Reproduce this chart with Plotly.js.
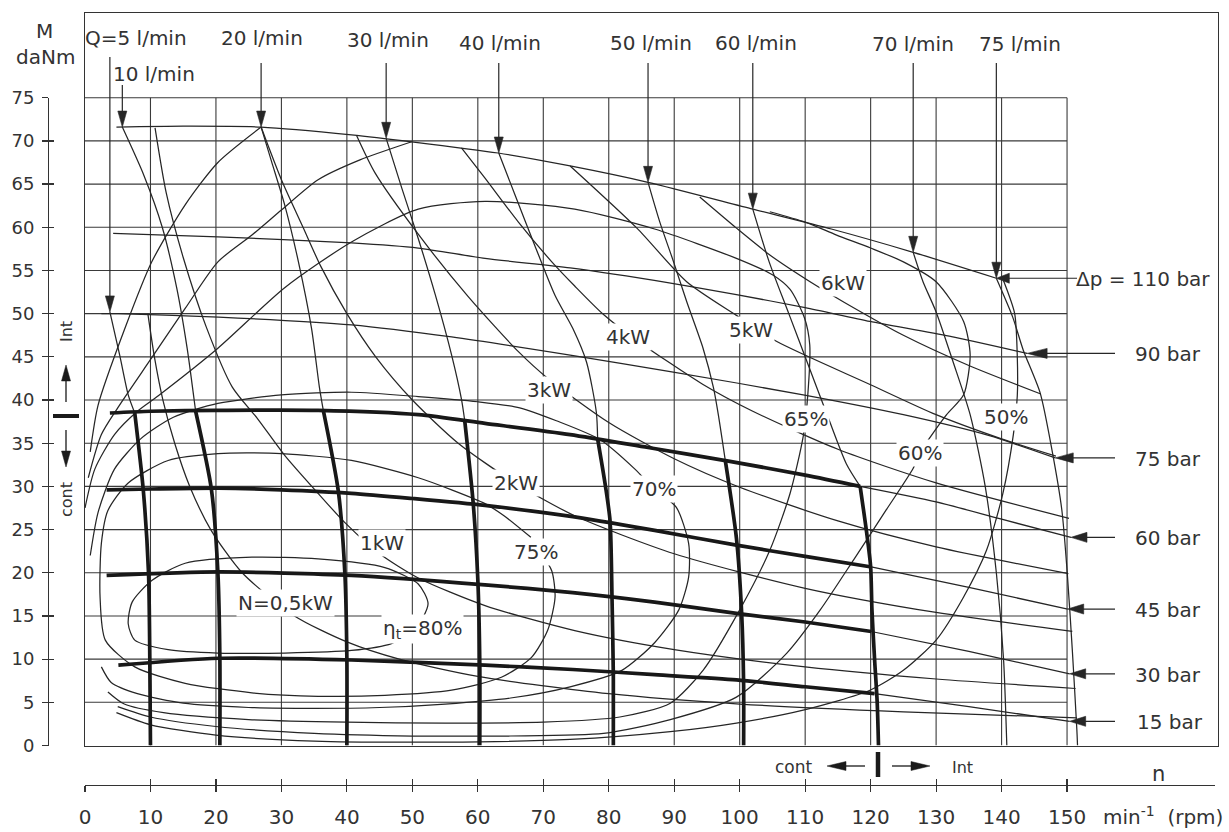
<!DOCTYPE html>
<html><head><meta charset="utf-8">
<script src="https://cdn.plot.ly/plotly-3.0.1.min.js"></script>
<style>html,body{margin:0;padding:0;background:#fff}#chart{width:1229px;height:832px}</style>
</head><body><div id="chart"></div>
<script>
// ---------------- DATA (speed n in rpm, torque M in daNm) ----------------
const xTicks = [0,10,20,30,40,50,60,70,80,90,100,110,120,130,140,150];
const yTicks = [0,5,10,15,20,25,30,35,40,45,50,55,60,65,70,75];

// pressure lines (thin)
const p110_n = [4.8,15,26.9,40.7,49.9,63.1,74.1,86,102,114,126.5,139.2];
const p110_m = [71.6,71.7,71.6,70.7,69.9,68.6,67.1,65.2,62.1,59.8,57.1,54.1];
const p90_n  = [4.3,20.3,40.7,50.9,61.1,74.1,89,99.5,110,119.9,132,143.9];
const p90_m  = [59.3,58.9,58.2,57.6,56.4,55.3,53.6,52.2,50.7,49.1,47.4,45.4];
const p75_n  = [2.5,5.1,20.4,40.7,56,74.1,89.4,109.7,125,138,148.2];
const p75_m  = [50,50,49.6,48.7,47.3,45.2,43.3,40.6,38.3,35.9,33.3];
// pressure lines: thick (continuous duty) part and thin continuation
const p60c_n = [3.8,10,20,35.6,50.9,61.1,74.1,86,98.5,110,118.4];
const p60c_m = [38.5,38.7,38.8,38.8,38.3,37.3,36,34.5,32.9,31.3,30];
const p60i_n = [118.4,130,140,150.6];
const p60i_m = [30,28.2,26.2,24.1];
const p45c_n = [3.3,10,20.4,30,40.7,50,61.1,74.5,87,99.5,110,119.9];
const p45c_m = [29.6,29.7,29.8,29.6,29.2,28.6,27.8,26.5,24.9,23.2,21.9,20.7];
const p45i_n = [119.9,135,150.1];
const p45i_m = [20.7,18.3,15.8];
const p30c_n = [3.3,20.4,40.7,61.1,74.5,87,99.5,110,120.1];
const p30c_m = [19.7,20.1,19.7,18.6,17.7,16.6,15.3,14.3,13.2];
const p30i_n = [120.1,135,150.4];
const p30i_m = [13.2,10.9,8.3];
const p15c_n = [5.1,20.4,40.7,61.1,74.5,87,99.5,110,120.6];
const p15c_m = [9.3,10.1,9.9,9.3,8.8,8.2,7.6,6.8,6.0];
const p15i_n = [120.6,135,150.4];
const p15i_m = [6.0,4.5,2.8];

// flow lines Q (l/min): thin part from the top, thick part in continuous zone
const q5t_n  = [3.8,5.3,6.6,7.6];            const q5t_m  = [50.2,45.2,40.6,38.5];
const q5c_n  = [7.6,8.9,9.7,9.9,10.0];       const q5c_m  = [38.5,29.6,20,10,0];
const q10t_n = [5.7,9,11.8,14,15.6,16.5,16.9]; const q10t_m = [71.6,66,60,53,46,41,38.7];
const q10c_n = [16.9,19.3,20.3,20.6,20.6];   const q10c_m = [38.7,29.7,20,10,0];
const q20t_n = [26.9,28.5,30.5,32.6,34.6,35.8,36.4]; const q20t_m = [71.6,67.6,62.6,56,48.3,41.5,38.8];
const q20c_n = [36.4,38.7,39.7,40,40];       const q20c_m = [38.8,29.4,19.8,10,0];
const q30t_n = [46,48.4,50.9,53.5,56,57.5,58]; const q30t_m = [70.3,64.5,58.7,52.2,45.2,40.1,37.6];
const q30c_n = [58,59.3,60,60.3,60.3];       const q30c_m = [37.6,28,19.2,9.5,0];
const q40t_n = [63.2,65.7,68.7,71.8,74.5,76.6,78.1,78.3]; const q40t_m = [68.6,63.7,57.9,52.1,48.3,44.4,38.6,35.5];
const q40c_n = [78.3,79.5,80.2,80.5,80.7,80.7]; const q40c_m = [35.5,30,26,17,8,0];
const q50t_n = [86,87.8,89.9,91.9,94.4,96,96.8,97.8]; const q50t_m = [65.2,60.6,56,51.4,46,41.4,38,33];
const q50c_n = [97.8,99.5,100.3,100.6,100.6]; const q50c_m = [33,24,15.3,7,0];
const q60t_n = [102,104.5,107.5,110.5,113.5,116.3,118.4]; const q60t_m = [62.1,56,50,44,38,32.6,30];
const q60c_n = [118.4,119.4,120,120.2,120.6,121,121.2]; const q60c_m = [30,24.6,20.7,15.7,10,5,0];
const q70_n  = [126.5,128,130,132.6,135.2,137.5,139.2,140.3,140.8]; const q70_m = [57.1,53.7,50.2,44.4,38.3,30,20,10,0];
const q75_n  = [139.2,141.7,143.3,145.9,147.7,149.2,150,150.8,151.5,151.6]; const q75_m = [54.1,49.6,45.8,40.8,34.2,27.3,20.3,11.1,1.8,0];

// output power lines N (kW)
const kw6_n  = [93.9,99.5,104.6,111.8,116,125,135,146];
const kw6_m  = [63.5,59.9,56.8,53.2,51.3,47.5,44,40.7];
const kw5_n  = [74.1,84.3,91.9,99.5,105.6,119.9,130,140,148.3];
const kw5_m  = [67.1,59.9,53.7,49.8,46.8,41.8,38.3,35.5,33.5];
const kw4_n  = [57.5,61.1,66.2,71.3,74.8,79.2,84.3,94.4,102,115,130,150.3];
const kw4_m  = [69.2,65.7,60.6,56,53.2,49.9,46.9,41.8,38.7,34.3,30.4,26.3];
const kw3_n  = [41.5,44.3,50.9,58.5,66.2,70.7,80,90,100,115,130,150.2];
const kw3_m  = [70.6,66.3,59.2,52,45.6,42.5,37.4,33.2,29.9,26,23,19.9];
const kw2_n  = [26.9,30,33.3,36,40,44.4,50,57,65.7,74.8,90,110,130,150.8];
const kw2_m  = [71.6,65.5,60,55.5,50,45,40,35,30.4,26.6,22.2,18.2,15.4,13.2];
const kw1_n  = [10.7,12.4,15,18.5,22.5,26.4,30.5,35.6,39.7,45,50.9,61.1,74.8,90,110,130,151.3];
const kw1_m  = [71.5,64,56.5,48.5,41.5,37.8,33.6,29.2,25.8,22.2,19.4,16.2,13.3,11.1,9.1,7.7,6.6];
const kw05_n = [9.6,10.6,11.9,13.7,16,19.2,24,32,40,48,60,80,100,125,151.5];
const kw05_m = [50,45,40,35,30,25,20,15,12,10,8,6,4.8,3.9,3.2];

// total efficiency contours
const e80_n = [52.4,50.9,45.8,35.6,25.5,15.3,10.2,7.2,6.6,7.6,12.7,20.3,30.5,40.7,46.8,50.5,52.4];
const e80_m = [16.4,18.7,20.6,21.6,21.8,21.1,19.1,16.6,14.1,12.2,11.1,10.7,10.7,11,11.8,13.5,16.4];
const e75_n = [68.1,64,61.1,56,50.9,40.7,30,20.3,12.7,6.6,3.5,2.5,2.3,3.1,7.6,15.3,25.5,35.6,45.8,56,63.6,68.2,70.7,71.8,71.3,69.5];
const e75_m = [24.1,26.6,28,29.6,31,33,33.8,33.8,33,30.4,27.2,23.4,17.2,12.2,9.1,7.2,6.1,5.7,5.8,6.4,7.9,10.2,13.4,17.2,20.2,22.5];
const e70_n = [0.8,2,4.5,8.5,13.5,20.3,30,40.7,50.9,60,66.4,72,78.7,84,86.8,90.3,92.2,92.2,90.7,87,82,74.1,65,55,45,35,25,15,8,4,2.5];
const e70_m = [22,27,32,35.5,38,39.6,40.6,40.9,40.4,39.8,39.1,37.6,35.4,32,29.8,27.6,23.4,19.5,15.7,11.9,8.7,6.8,5.5,4.8,4.4,4.3,4.4,4.9,6,7.3,9.1];
const e65_n = [0,1.5,4.5,8,11.2,20.3,30.5,40.7,50.9,61.1,74.8,87,99.5,105,107.7,109.9,110.7,110.4,109.7,107.7,104.6,100,94.4,89.4,81.7,70,55,40,25,12,6,3.5];
const e65_m = [27.5,32,36,38.7,40.5,46,53,58.3,62.1,63,62.1,59.8,56.4,54.5,52.8,49.5,46.4,40.6,35.8,29.2,22.6,15.7,8.7,4.9,3.3,2.7,2.6,2.7,3,3.8,4.8,6.2];
const e60a_n = [0.5,2.5,5,10.2,15.3,20.3,25.5,30,35.6,42,49.9];
const e60a_m = [31,36,39.1,44.9,50.6,56,59.1,62,65.5,67.8,69.9];
const e60b_n = [104.6,110,114.8,120,125,130,134.2,135.2,134.2,131.6,127.6,126.5,122.4,117.4,112.3,107.2,99.5,89.4,79.2,65,50,35,20,10,5];
const e60b_m = [61.8,60.6,59.1,57.6,56,53.7,49.1,45.2,40.6,38.3,34,32.1,27.3,21.5,15.7,10.7,5.6,3,1.4,1.1,1.1,1.4,2.2,3.3,4.5];
const e50a_n = [0.8,2,6.1,10.2,15.3,20.3,26.9];
const e50a_m = [34,39.4,48.3,56,62.6,67.5,71.6];
const e50b_n = [140.3,142,142.4,142.4,141.8,140.2,137.7,134.2,130,125,119.9,109.7,99.5,89.4,74.1,55,35,20,10,4.8];
const e50b_m = [53.8,50,45,40.5,36,29.2,22.6,17.2,12.2,8.7,6.4,4.1,2.6,1.6,0.7,0.4,0.5,1.2,2.4,3.8];

// text labels
const qLabels = ['Q=5 l/min','10 l/min','20 l/min','30 l/min','40 l/min','50 l/min','60 l/min','70 l/min','75 l/min'];
const pLabels = ['\u0394p = 110 bar','90 bar','75 bar','60 bar','45 bar','30 bar','15 bar'];
const curveLabels = ['6kW','5kW','4kW','3kW','2kW','1kW','N=0,5kW','\u03b7<sub>t</sub>=80%','75%','70%','65%','60%','50%'];

// ---------------- LAYOUT HELPERS ----------------
const FONT = 'DejaVu Sans';
const COL = '#262626', GRID = '#3a3a3a', TXT = '#333';
const W = 1229, H = 832, L = 85, R = 1218, T = 13, B = 745.5;
const KX = 6.547, KY = 8.637;                 // px per rpm, px per daNm
const rx = px => (px - L) / KX, my = py => (B - py) / KY;
const PX = px => px / W, PY = py => (H - py) / H;
const XMAX = rx(R), YMAX = my(T);
const xEnd = xTicks[xTicks.length - 1], yEnd = yTicks[yTicks.length - 1];

const traces = [];
function line(n, m, w) {
  traces.push({type:'scatter', mode:'lines', x:n, y:m, hoverinfo:'skip', showlegend:false,
    line:{color: w > 2 ? '#181818' : COL, width:w, shape:'spline', smoothing:0.7}});
}
const THIN = 1.25, THICK = 3.7;
[[p110_n,p110_m],[p90_n,p90_m],[p75_n,p75_m],[p60i_n,p60i_m],[p45i_n,p45i_m],[p30i_n,p30i_m],[p15i_n,p15i_m],
 [q5t_n,q5t_m],[q10t_n,q10t_m],[q20t_n,q20t_m],[q30t_n,q30t_m],[q40t_n,q40t_m],[q50t_n,q50t_m],[q60t_n,q60t_m],[q70_n,q70_m],[q75_n,q75_m],
 [kw6_n,kw6_m],[kw5_n,kw5_m],[kw4_n,kw4_m],[kw3_n,kw3_m],[kw2_n,kw2_m],[kw1_n,kw1_m],[kw05_n,kw05_m],
 [e80_n,e80_m],[e75_n,e75_m],[e70_n,e70_m],[e65_n,e65_m],[e60a_n,e60a_m],[e60b_n,e60b_m],[e50a_n,e50a_m],[e50b_n,e50b_m]
].forEach(c => line(c[0], c[1], THIN));
[[p60c_n,p60c_m],[p45c_n,p45c_m],[p30c_n,p30c_m],[p15c_n,p15c_m],
 [q5c_n,q5c_m],[q10c_n,q10c_m],[q20c_n,q20c_m],[q30c_n,q30c_m],[q40c_n,q40c_m],[q50c_n,q50c_m],[q60c_n,q60c_m]
].forEach(c => line(c[0], c[1], THICK));

// dummy traces so the separate tick axes exist
[['x','y2'],['x','y3'],['x2','y'],['x3','y']].forEach(a => traces.push({type:'scatter', mode:'markers', x:[0], y:[0],
  xaxis:a[0], yaxis:a[1], marker:{opacity:0, size:1}, hoverinfo:'skip', showlegend:false}));

// grid
const shapes = [];
xTicks.forEach(v => { if (v > 0) shapes.push({type:'line', xref:'x', yref:'y', x0:v, x1:v, y0:0, y1:yEnd, layer:'below', line:{color:GRID, width:1.1}}); });
yTicks.forEach(v => { if (v > 0) shapes.push({type:'line', xref:'x', yref:'y', x0:0, x1:xEnd, y0:v, y1:v, layer:'below', line:{color:GRID, width:1.1}}); });

// arrows in data space (tip given by data point)
function arrowDown(n, m, topPy) {
  const hl = 16 / KY, hw = 4.5 / KX;
  shapes.push({type:'line', xref:'x', yref:'y', x0:n, x1:n, y0:my(topPy), y1:m + hl * 0.6, line:{color:COL, width:1.2}});
  shapes.push({type:'path', xref:'x', yref:'y', path:`M${n},${m} L${n-hw},${m+hl} L${n+hw},${m+hl} Z`, fillcolor:COL, line:{color:COL, width:0.6}});
}
function arrowLeft(n, m, tailPx, hlPx) {
  const hl = hlPx / KX, hw = 5 / KY;
  shapes.push({type:'line', xref:'x', yref:'y', x0:rx(tailPx), x1:n + hl * 0.6, y0:m, y1:m, line:{color:COL, width:1.2}});
  shapes.push({type:'path', xref:'x', yref:'y', path:`M${n},${m} L${n+hl},${m+hw} L${n+hl},${m-hw} Z`, fillcolor:COL, line:{color:COL, width:0.6}});
}
const qStarts = [[q5t_n,q5t_m,57],[q10t_n,q10t_m,85],[q20t_n,q20t_m,63],[q30t_n,q30t_m,63],[q40t_n,q40t_m,63],[q50t_n,q50t_m,63],[q60t_n,q60t_m,63],[q70_n,q70_m,63],[q75_n,q75_m,63]];
qStarts.forEach(q => arrowDown(q[0][0], q[1][0], q[2]));
const pEnds = [[p110_n,p110_m,1077,13],[p90_n,p90_m,1115,20],[p75_n,p75_m,1115,18],[p60i_n,p60i_m,1115,16],[p45i_n,p45i_m,1115,16],[p30i_n,p30i_m,1115,16],[p15i_n,p15i_m,1115,16]];
pEnds.forEach(p => arrowLeft(p[0][p[0].length-1], p[1][p[1].length-1], p[2], p[3]));

// paper-space decorations (cont / Int markers)
function pLine(x0,y0,x1,y1,w){ shapes.push({type:'line', xref:'paper', yref:'paper', x0:PX(x0), y0:PY(y0), x1:PX(x1), y1:PY(y1), line:{color:'#1a1a1a', width:w}}); }
function pHead(tx,ty,dx,dy,len,wid){ // tip at tx,ty ; direction (dx,dy) unit
  const bx = tx - dx*len, by = ty - dy*len, nx = -dy*wid/2, ny = dx*wid/2;
  shapes.push({type:'path', xref:'paper', yref:'paper', fillcolor:'#1a1a1a', line:{color:'#1a1a1a', width:0.5},
    path:`M${PX(tx)},${PY(ty)} L${PX(bx+nx)},${PY(by+ny)} L${PX(bx-nx)},${PY(by-ny)} Z`});
}
pLine(53,416,79,416,4);
pLine(66,402,66,375,1.3); pHead(66,365,0,-1,16,9);
pLine(66,430,66,457,1.3); pHead(66,467,0,1,16,9);
pLine(878,752,878,777,4.5);
pLine(865,766,840,766,1.3); pHead(827,766,-1,0,19,9);
pLine(892,766,917,766,1.3); pHead(930,766,1,0,19,9);

// annotations
const ann = [];
function txt(s, px, py, size, extra) {
  ann.push(Object.assign({xref:'paper', yref:'paper', x:PX(px), y:PY(py), text:s, showarrow:false,
    xanchor:'center', yanchor:'middle', font:{family:FONT, size:size, color:TXT}}, extra || {}));
}
txt('M', 45, 31, 20); txt('daNm', 45.5, 57, 20);
const qPos = [[135.5,38],[154,74],[261.5,38],[388,40],[500,43],[651,43],[756,43],[913,44],[1020,44]];
qLabels.forEach((s,i) => txt(s, qPos[i][0], qPos[i][1], 20));
const pPos = [[1143,279],[1168,354],[1168,459],[1168,538],[1168,610],[1168,675],[1170,722]];
pLabels.forEach((s,i) => txt(s, pPos[i][0], pPos[i][1], 20));
const cPos = [[843.5,283],[750.5,330],[627.5,337],[548.5,390],[515.5,483],[382,543],[285,603],[422.5,629],[535.5,552],[653.5,489],[805.5,419],[920,453],[1006,417]];
curveLabels.forEach((s,i) => txt(s, cPos[i][0], cPos[i][1], 20, {bgcolor:'#ffffff', borderpad:1}));
txt('Int', 66, 332, 16, {textangle:-90});
txt('cont', 66, 500, 16, {textangle:-90});
txt('cont', 794, 767, 17);
txt('Int', 962, 767, 16);
txt('n', 1158, 774, 21);
txt('min<sup>-1</sup>\u00a0\u00a0(rpm)', 1163, 816, 20);

const layout = {
  width:W, height:H, margin:{l:0, r:0, t:0, b:0, pad:0},
  paper_bgcolor:'#ffffff', plot_bgcolor:'rgba(0,0,0,0)', showlegend:false, hovermode:false,
  xaxis:{domain:[PX(L), PX(R)], range:[0, XMAX], showgrid:false, zeroline:false, showticklabels:false, ticks:'',
         showline:true, mirror:true, linecolor:'#333', linewidth:1.4},
  yaxis:{domain:[PY(B), PY(T)], range:[0, YMAX], showgrid:false, zeroline:false, showticklabels:false, ticks:'',
         showline:true, mirror:true, linecolor:'#333', linewidth:1.4},
  yaxis2:{domain:[PY(B), PY(B - yEnd*KY)], range:[0, yEnd], anchor:'free', position:PX(48), side:'left',
          tickmode:'array', tickvals:yTicks, ticks:'outside', ticklen:6, tickwidth:1.2, tickcolor:'#333',
          showline:true, linecolor:'#333', linewidth:1.2, showgrid:false, zeroline:false,
          tickfont:{family:FONT, size:18, color:TXT}, ticklabelstandoff:4},
  yaxis3:{overlaying:'y2', range:[0, yEnd], anchor:'free', position:PX(48), side:'left',
          tickmode:'array', tickvals:yTicks, ticks:'inside', ticklen:5, tickwidth:1.2, tickcolor:'#333',
          showline:false, showgrid:false, zeroline:false, showticklabels:false},
  xaxis2:{domain:[PX(L), PX(1215)], range:[0, rx(1215)], anchor:'free', position:PY(785), side:'bottom',
          tickmode:'array', tickvals:xTicks, ticks:'outside', ticklen:6, tickwidth:1.2, tickcolor:'#333',
          showline:true, linecolor:'#333', linewidth:1.2, showgrid:false, zeroline:false,
          tickfont:{family:FONT, size:20, color:TXT}, ticklabelstandoff:8},
  xaxis3:{overlaying:'x2', range:[0, rx(1215)], anchor:'free', position:PY(785), side:'bottom',
          tickmode:'array', tickvals:xTicks, ticks:'inside', ticklen:6, tickwidth:1.2, tickcolor:'#333',
          showline:false, showgrid:false, zeroline:false, showticklabels:false},
  shapes:shapes, annotations:ann
};
Plotly.newPlot('chart', traces, layout, {staticPlot:true, displayModeBar:false});
</script></body></html>
